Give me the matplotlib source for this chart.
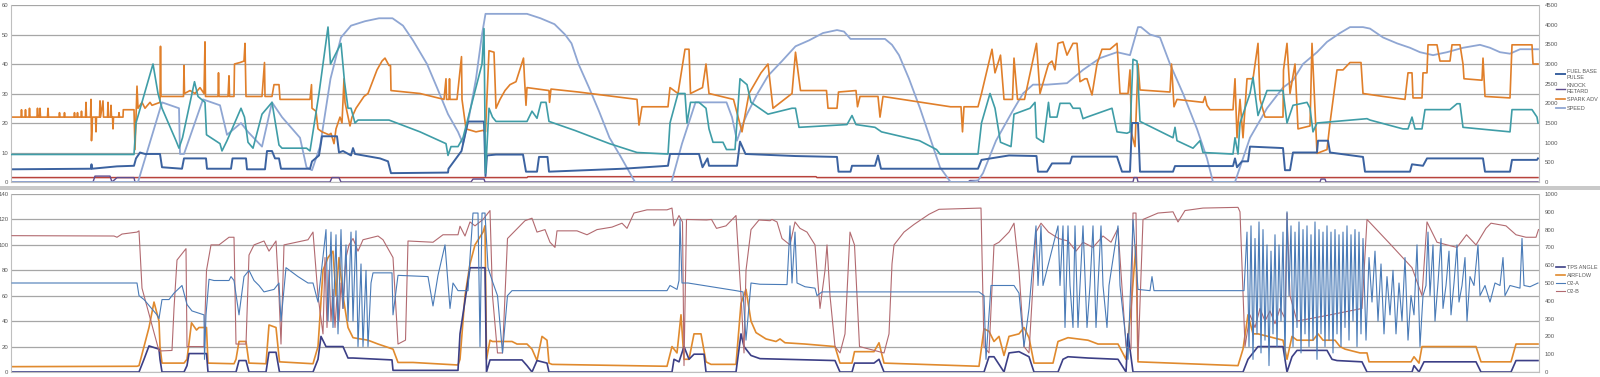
import numpy as np
import matplotlib
matplotlib.use("Agg")
import matplotlib.pyplot as plt
from matplotlib.patches import Rectangle

plt.rcParams['font.family'] = ['Liberation Sans', 'DejaVu Sans']

# ---------------- top chart (time sample, value) ----------------
# left axis 0-60
fuel_base_pulse = [(10, 4.3), (91, 4.5), (91.5, 6), (92, 4.5), (117, 5.3), (134, 5.5), (136, 8), (140, 10), (145, 9.5),
                   (160, 9.5), (162, 5), (182, 4.5), (184, 8), (206, 8), (207, 4.5), (231, 4.5), (232.5, 8), (246, 8),
                   (247, 4.3), (265, 4.3), (267, 10.5), (272, 10.5), (275, 8), (279, 8), (281, 4.5), (310, 4.5),
                   (312, 7), (319, 9), (322, 15.5), (337, 15.5), (339, 10), (343, 10.5), (351, 9), (353, 11.5),
                   (355, 9.5), (380, 8), (388, 7), (391, 3), (448, 3.2), (448.5, 4.5), (461.5, 10.5), (468, 20.5),
                   (484, 20.5), (485.5, 2), (487, 9), (496, 9.3), (523, 9.3), (526, 3.5), (537, 3.5), (539, 8.5),
                   (547.5, 8.5), (549, 3.5), (623, 4.5), (668, 5.5), (670, 9.5), (699, 9.5), (702.5, 5), (707.5, 8),
                   (709, 5.5), (737, 5.5), (740, 13.7), (745.5, 9.5), (795.5, 8.8), (837, 8.5), (838.5, 3.5),
                   (850.5, 3.5), (852, 5.5), (875, 5.5), (878, 9), (881, 4.5), (978, 4.5), (981.5, 7.5), (1009, 9),
                   (1036.5, 8.8), (1038, 3.5), (1047, 3.5), (1052, 6.3), (1070, 6.3), (1072, 8.6), (1117, 8.6),
                   (1122, 3.5), (1130, 3.5), (1132, 20), (1138, 20), (1140, 3.5), (1173, 3.5), (1175, 5.4),
                   (1233, 5.4), (1235, 8), (1237, 5), (1242, 7), (1248, 7), (1250, 12), (1283, 11.5), (1285, 4),
                   (1290, 4), (1293, 10), (1317, 10), (1318, 14), (1328, 14), (1330, 10), (1363, 8.5), (1365, 3.5),
                   (1410, 3.5), (1412, 6), (1423, 5.5), (1427, 8), (1483, 8), (1485, 3.5), (1510, 3.5),
                   (1512, 7.5), (1537, 7.5), (1538, 8)]

knock_retard = [(10, 0), (93, 0), (95, 2), (110, 2), (112, 0), (117, 1.5), (134, 1.5), (135, 0), (330, 0),
                (332, 1.5), (339, 1.5), (341, 0), (471, 0), (473, 1), (484, 1), (485, 0), (968, 0), (970, 0.5),
                (978, 0.5), (979, 0), (1133, 0), (1134, 1.5), (1137, 1.5), (1138, 0), (1320, 0), (1321, 1),
                (1325, 1), (1326, 0), (1538, 0)]

red_trace = [(10, 1.5), (527, 1.5), (528, 1.8), (816, 1.8), (817, 1.5), (1538, 1.5)]

spark_adv = [(10, 22), (21, 22), (21.5, 24.5), (22, 22), (25, 22), (25.5, 24.5), (26, 22), (29, 22), (29.5, 25),
             (30, 22), (37, 22), (37.5, 25), (38, 22), (39.5, 22), (40, 25), (40.5, 22), (47.5, 22), (48, 25),
             (48.5, 22), (59, 22), (59.5, 23.5), (60, 22), (64, 22), (64.5, 23.5), (65, 22), (74, 22),
             (74.5, 23.5), (75, 22), (77, 22), (77.5, 23.5), (78, 22), (81, 22), (81.5, 24), (82, 22),
             (85.5, 22), (86, 27), (86.5, 22), (90.5, 22), (91, 28), (91.5, 14), (92.5, 22), (95.5, 22),
             (96, 17), (96.5, 22), (99.5, 22), (100, 27.5), (100.5, 22), (103, 27.5), (103.5, 22), (107.5, 22),
             (108, 27), (108.5, 22), (110.5, 22), (111, 26), (111.5, 22), (112.5, 22), (113, 18), (113.5, 22),
             (118.5, 22), (119, 23.5), (119.5, 22), (123, 22), (123.3, 24.5), (134, 24.5), (135, 11),
             (137, 32.5), (138, 25), (142, 27), (145, 25), (150, 27), (152, 26), (160, 27), (160.5, 46),
             (161, 29), (175, 29), (183.5, 29), (184, 39.5), (184.5, 30), (190, 31), (195, 30), (200, 32),
             (204, 30), (205, 47.5), (205.5, 29), (218, 29), (218.5, 37), (219, 29), (228, 29), (229, 36),
             (229.5, 29), (234, 29), (234.5, 40), (240, 40.5), (244, 41), (245, 47), (246, 29), (262, 29),
             (264.5, 40.5), (265, 29), (272, 29), (274, 33), (279, 33), (280, 28), (310, 28), (311.5, 33),
             (312, 25), (316, 24), (318, 18), (322, 17), (329, 16), (331, 16.5), (334, 13), (336, 18),
             (340, 22), (342, 20), (344, 35), (345, 27), (350, 19), (352, 22), (356, 25), (360, 27), (364, 29),
             (368, 30), (377, 38), (382, 41), (385, 42), (389, 39.5), (390.5, 39.5), (391, 31), (420, 30),
             (444, 28), (446, 35), (446.5, 28), (449, 28), (449.5, 35), (450, 28), (457, 28), (461.5, 42.5),
             (462, 28), (466, 18), (476, 17), (483, 17.5), (485.5, 17), (489, 44.5), (494, 44), (496, 25),
             (500, 28), (505, 31), (510, 33), (516, 34), (523.5, 42), (524.5, 35), (526, 26), (527, 32),
             (549, 31), (549.5, 27), (551, 31.5), (578.5, 30.5), (637, 28), (639, 19.3), (642, 25.5),
             (668, 25.5), (670, 32), (678, 30), (685, 45), (689, 45), (690.5, 30), (702.5, 32), (706, 40),
             (709, 30), (733.5, 28), (742, 17), (749, 30), (761, 37), (768, 40), (773, 25), (792, 30),
             (795.5, 44), (800.5, 31), (826.5, 31), (828, 25), (837, 25), (838.5, 30.5), (856, 31),
             (857.5, 25.5), (860, 29), (878, 29), (880, 22), (883, 29), (950.5, 25.5), (961, 25.5), (962.5, 17),
             (964, 25.5), (978, 25.5), (981.5, 30), (992, 45), (995, 37), (1000.5, 43), (1004, 28),
             (1012.5, 28), (1014, 42), (1017.5, 28), (1024.5, 28), (1036.5, 47), (1040, 30), (1048.5, 40),
             (1052, 41), (1055, 38), (1058, 47), (1063, 47.5), (1067, 43), (1073, 47), (1077, 47), (1080, 34),
             (1085, 35), (1087, 35), (1092, 29.5), (1097, 40), (1102, 45), (1110, 45), (1117, 47), (1120, 30),
             (1128, 30), (1130, 38), (1131.5, 16.5), (1135, 12), (1138, 40), (1140, 31.2), (1170, 30.5),
             (1171.5, 40), (1174, 25.5), (1177, 28), (1203, 27), (1205, 29), (1207, 26), (1210, 24.5),
             (1233, 24.5), (1235, 35), (1237, 15), (1240, 28), (1243, 15), (1247, 35), (1253, 35), (1258, 47),
             (1260, 28), (1265, 22), (1283, 22), (1283.5, 38), (1287, 47), (1290, 30), (1295, 40), (1298, 18),
             (1310, 19), (1312, 47), (1317, 9.7), (1327, 11), (1330, 20), (1337, 38), (1343, 38), (1350, 40.5),
             (1361, 40.5), (1363, 30), (1383, 29), (1405, 28), (1408, 37), (1412, 37), (1413, 28.5),
             (1422, 28.5), (1423, 37), (1427, 37), (1428, 46.5), (1437, 46.5), (1440, 41), (1450, 41),
             (1452, 46.5), (1460, 46.5), (1463, 40), (1464, 35), (1482, 34.5), (1483, 42), (1485, 29),
             (1510, 28.5), (1512, 46.5), (1532, 46.5), (1533, 40), (1538, 40)]

speed = [(10, 0), (138, 0), (162, 27), (179, 25), (180, 9.5), (184, 9.5), (203, 28), (220, 26), (227, 16),
         (241, 20), (248, 17), (262, 12), (272, 27), (282, 22), (300, 15), (306.5, 5), (312, 4), (320, 12),
         (330.5, 35), (341, 49), (351, 53), (365, 54.5), (379, 55.5), (392.5, 55.5), (403, 53), (413, 48),
         (427, 40), (437, 32), (448, 23), (458, 17), (463, 13), (469, 22), (476, 35), (482, 50), (485.5, 57),
         (527, 57), (540.5, 55.5), (554.5, 53.5), (565, 50), (571.5, 47), (578.5, 40), (589, 32), (599, 24),
         (609.5, 15), (620, 9), (630, 3), (635, 0), (671.5, 0), (682, 13), (695.5, 27), (726.5, 27), (732, 22),
         (737, 14), (742, 19), (747, 23), (757.5, 30), (768, 36), (782, 41), (795.5, 46), (809, 48),
         (823, 50.5), (837, 51.5), (844, 51), (850.5, 48.5), (885, 48.5), (892, 46.5), (899, 43), (909, 35),
         (920, 25), (930, 15), (940, 5), (950.5, 0), (968, 0), (978, 0.5), (983, 3), (996, 14),
         (1012.5, 24), (1023, 30), (1033, 33), (1047, 33), (1067, 33.5), (1083, 38), (1100, 42), (1117, 44),
         (1130, 43), (1138, 52.5), (1141, 52.5), (1150, 50), (1160, 49), (1170, 40), (1183, 30), (1197, 18),
         (1207, 8), (1213, 0), (1235, 0), (1237, 2), (1250, 15), (1267, 25), (1283, 32), (1293, 34.5),
         (1303, 40), (1317, 44), (1327, 47.5), (1340, 50.5), (1350, 52.5), (1363, 52.5), (1370, 52),
         (1383, 49), (1397, 47), (1410, 45.5), (1420, 44), (1433, 43), (1447, 44), (1463, 45.5),
         (1480, 46.5), (1490, 45.5), (1500, 44), (1510, 43.5), (1520, 45), (1538, 45)]

# right axis 0-4500
rpm = [(10, 700), (134, 700), (136, 1500), (153, 3000), (158, 2250), (162, 1875), (176, 1050), (179, 860),
       (182.5, 1125), (194.5, 2550), (198, 2175), (205, 2025), (206.5, 1200), (220, 975), (222, 790),
       (227, 1050), (241, 1875), (244.5, 1650), (248, 1010), (253, 860), (262, 1725), (272, 2025), (279, 940),
       (282, 860), (306.5, 860), (310, 790), (319, 2250), (328, 3940), (330.5, 3000), (341, 3525),
       (344.5, 2550), (348, 1875), (351, 1875), (355, 1500), (358, 1575), (389, 1575), (420, 1275),
       (446, 975), (448, 675), (451, 900), (458, 900), (463, 1125), (482, 3000), (484, 3900), (485.5, 225),
       (489, 1875), (492.5, 1650), (496, 1540), (527, 1540), (532, 1800), (537, 1620), (541, 2025),
       (546, 2025), (549, 1540), (575, 1310), (609.5, 975), (637, 750), (668, 710), (670, 1500), (678, 2250),
       (685, 2250), (687, 1500), (690.5, 2025), (699, 2025), (706, 1875), (709, 1350), (713, 1010),
       (723, 1010), (726.5, 825), (735, 825), (740, 2625), (747, 2475), (751, 2025), (768, 1725),
       (792, 1875), (795.5, 1875), (799, 1390), (847, 1460), (852, 1690), (856, 1460), (875, 1390),
       (881.5, 1275), (919.5, 1050), (936.5, 825), (940, 710), (978, 710), (981.5, 1500), (990, 2250),
       (995, 1875), (1000.5, 1010), (1011, 900), (1014, 1725), (1030, 1875), (1035, 2025), (1036.5, 1125),
       (1043.5, 1010), (1048.5, 2025), (1050, 1650), (1057, 1650), (1060, 2000), (1070, 2000), (1073, 1875),
       (1080, 1875), (1083, 1610), (1087, 1650), (1112, 1875), (1117, 1275), (1127, 1240), (1130, 1275),
       (1133, 3120), (1137, 3075), (1140, 1540), (1173, 1125), (1175, 1390), (1177, 1050), (1193, 860),
       (1200, 1050), (1203, 750), (1233, 710), (1235, 1125), (1238, 710), (1240, 1500), (1250, 2250),
       (1253, 2660), (1258, 1690), (1267, 2325), (1283, 2325), (1287, 1500), (1290, 1725), (1293, 1950),
       (1307, 2025), (1310, 1875), (1313, 1275), (1317, 1500), (1367, 1610), (1370, 1575), (1403, 1350),
       (1408, 1350), (1412, 1650), (1415, 1350), (1422, 1350), (1425, 1840), (1450, 1840), (1457, 1990),
       (1460, 1990), (1463, 1390), (1510, 1275), (1512, 1840), (1532, 1840), (1537, 1650), (1538, 1500)]

# ---------------- bottom chart ----------------
# left axis 0-140
tps_angle = [(12, 0), (139, 0), (144, 10), (149, 20.5), (159, 18), (160, 10), (162, 0), (184, 0), (187, 5),
             (189, 14.5), (206.5, 14.5), (208, 0), (236, 0), (239, 9), (246, 9), (249, 0), (266, 0),
             (269, 15.5), (276, 15.5), (279.5, 0), (313, 0), (318, 10), (321, 28), (326, 20), (343, 20),
             (348, 11), (353, 11), (392, 9.5), (393, 1.3), (458, 1.3), (460, 30), (470, 82), (485, 82),
             (486.5, 0), (490, 9.5), (522, 9.5), (527, 5), (532, 0), (537, 9), (547, 7), (549, 0), (672, 0),
             (674, 10), (679, 8), (684, 20), (689, 10), (694, 14), (704, 14), (706, 0), (736, 0), (741, 30),
             (744, 20), (751, 13), (760, 10.5), (835, 9), (840, 0), (852, 0), (854.5, 7), (874, 7), (879, 10),
             (884, 0), (984, 0), (989, 12), (994, 12), (1004, 0), (1009, 15), (1019, 16), (1029, 12),
             (1034, 0), (1058, 0), (1063, 10), (1068, 12), (1088, 11), (1118, 10), (1126, 0), (1128, 30),
             (1133, 0), (1243, 0), (1248, 10), (1258, 20), (1283, 20), (1287, 0), (1292, 12), (1297, 17),
             (1327, 17), (1332, 10), (1337, 9), (1362, 8), (1367, 0), (1412, 0), (1414, 5), (1419, 0),
             (1424, 8), (1476, 8), (1481, 0), (1511, 0), (1516, 9), (1538, 9)]

airflow = [(12, 4.2), (137, 4.5), (139, 5), (144, 20), (149, 35), (154, 55), (159, 40), (160, 20), (162, 7),
           (184, 7), (187, 10), (191.5, 38.7), (196.5, 33), (199, 35), (206.5, 35), (208, 7), (234, 6.5),
           (236, 10), (239, 24), (246, 24), (249, 7), (266, 6.5), (269, 37), (276, 35), (279.5, 8), (313, 6.5),
           (318, 20), (323, 80), (328, 90), (333, 95), (336, 60), (339, 90), (343, 60), (348, 35), (353, 27),
           (368, 25), (378, 22), (393, 18), (398, 7.5), (413, 7.5), (458, 5.5), (460, 10), (465, 60), (470, 85),
           (475, 100), (483, 110), (485, 115), (486.5, 10), (490, 25), (492.5, 24), (512, 24), (517, 22),
           (527, 22), (532, 18), (537, 9), (542, 28), (547, 25), (549, 7), (552, 6), (667, 4.5), (672, 20),
           (677, 15), (681, 45), (684, 10), (689, 10), (694, 30), (701, 30), (706, 8), (711, 6), (736, 6),
           (741, 54), (746, 65), (751, 40), (756, 31), (766, 26), (776, 24), (780, 26), (785, 23), (805, 22),
           (835, 20), (840, 7), (852, 7), (854.5, 16), (874, 16), (879, 23), (884, 7), (979, 4.5), (984, 34),
           (989, 32), (994, 24), (999, 28), (1004, 13), (1009, 28), (1019, 30), (1024, 35), (1029, 27),
           (1034, 7), (1053, 7), (1058, 24), (1068, 27), (1078, 26), (1088, 25), (1098, 22), (1118, 22),
           (1126, 10), (1131, 50), (1136, 100), (1138, 8), (1238, 5), (1243, 18), (1248, 45), (1253, 30),
           (1258, 30), (1283, 25), (1287, 10), (1292, 28), (1297, 25), (1313, 25), (1318, 30), (1323, 25),
           (1335, 25), (1340, 20), (1345, 18), (1360, 15), (1367, 15), (1369, 8), (1411, 8), (1414, 12),
           (1419, 7), (1422, 20), (1476, 20), (1481, 8), (1511, 8), (1516, 22), (1538, 22)]

# right axis 0-1000 (mV)
o2_a = [(12, 500), (137, 500), (139, 429), (144, 407), (157, 321), (159, 300), (162, 407), (169, 407),
        (174, 443), (182, 486), (187, 379), (192, 343), (204, 321), (204.5, 71), (206, 321), (209, 521),
        (214, 514), (229, 514), (231, 536), (234, 514), (239, 321), (244, 536), (249, 571), (254, 514),
        (259, 486), (264, 450), (274, 464), (279, 500), (281, 286), (286, 586), (298, 536), (308, 500),
        (313, 500), (318, 393), (326, 800), (328, 286), (331, 786), (333, 250), (336, 771), (338, 214),
        (341, 800), (343, 357), (346, 714), (348, 286), (351, 786), (353, 286), (356, 793), (358, 143),
        (361, 607), (363, 143), (366, 571), (368, 143), (371, 500), (373, 557), (392, 557), (393, 321),
        (398, 543), (428, 536), (433, 371), (438, 543), (445, 714), (450, 357), (453, 500), (458, 457),
        (468, 457), (470, 643), (473, 893), (478, 893), (480, 143), (482, 893), (485, 893), (488, 586),
        (493, 500), (497.5, 429), (502.5, 107), (507.5, 429), (512, 457), (667, 457), (670, 486),
        (677, 464), (679, 514), (680, 857), (682, 500), (688, 500), (736, 457), (743, 450), (746, 179),
        (751, 500), (760, 493), (787, 491), (790, 821), (792, 500), (795, 786), (797, 500), (805, 479),
        (815, 471), (817, 429), (822, 450), (979, 450), (984, 429), (986, 71), (991, 486), (1014, 486),
        (1019, 443), (1024, 143), (1029, 357), (1031, 486), (1036, 821), (1038, 486), (1041, 821),
        (1043, 486), (1058, 821), (1060, 486), (1063, 821), (1065, 250), (1068, 821), (1070, 486),
        (1073, 250), (1075, 821), (1078, 250), (1080, 486), (1083, 821), (1087, 250), (1090, 486),
        (1093, 821), (1096, 250), (1098, 486), (1101, 821), (1103, 486), (1107, 250), (1109, 486),
        (1118, 821), (1120, 486), (1128, 71), (1133, 857), (1138, 464), (1150, 457), (1152, 536),
        (1154, 457), (1244, 457), (1247, 786), (1249, 143), (1251, 821), (1253, 71), (1255, 750),
        (1257, 214), (1259, 843), (1261, 107), (1263, 800), (1265, 179), (1267, 714), (1269, 36),
        (1271, 679), (1273, 214), (1275, 771), (1277, 143), (1279, 714), (1281, 286), (1283, 786),
        (1285, 71), (1287, 900), (1289, 429), (1291, 821), (1293, 143), (1295, 786), (1297, 250),
        (1299, 843), (1301, 107), (1303, 800), (1305, 214), (1307, 821), (1309, 143), (1311, 771),
        (1313, 179), (1315, 843), (1317, 71), (1319, 800), (1321, 214), (1323, 786), (1325, 143),
        (1327, 821), (1329, 179), (1331, 786), (1333, 107), (1335, 800), (1337, 214), (1339, 771),
        (1341, 143), (1343, 786), (1345, 250), (1347, 821), (1349, 179), (1351, 771), (1353, 286),
        (1355, 800), (1357, 143), (1359, 786), (1361, 214), (1363, 750), (1366, 179), (1369, 643),
        (1372, 393), (1375, 679), (1378, 286), (1381, 607), (1384, 214), (1387, 536), (1390, 321),
        (1393, 571), (1396, 214), (1399, 500), (1402, 286), (1405, 643), (1408, 179), (1411, 429),
        (1414, 321), (1417, 714), (1420, 143), (1423, 429), (1426, 486), (1428, 786), (1430, 429),
        (1433, 714), (1435, 286), (1438, 500), (1441, 750), (1443, 357), (1446, 486), (1449, 679),
        (1451, 321), (1454, 500), (1457, 714), (1459, 393), (1462, 486), (1465, 643), (1467, 286),
        (1470, 536), (1474, 486), (1478, 714), (1480, 429), (1485, 486), (1490, 393), (1495, 500),
        (1500, 486), (1503, 643), (1505, 429), (1510, 486), (1520, 471), (1522, 750), (1524, 486),
        (1530, 479), (1538, 500)]

o2_b = [(12, 766), (114, 764), (117, 757), (122, 775), (137, 786), (139, 793), (142, 471), (159, 118),
        (172, 121), (174, 357), (177, 629), (186, 693), (187, 143), (204, 143), (206.5, 571), (211, 714),
        (219, 714), (229, 757), (234, 757), (236, 157), (246, 157), (249, 657), (254, 714), (264, 736),
        (269, 679), (276, 736), (279, 429), (281, 157), (284, 714), (308, 743), (313, 786), (318, 429),
        (323, 214), (325, 643), (327, 250), (329, 571), (331, 286), (333, 464), (335, 250), (337, 429),
        (339, 286), (341, 500), (343, 357), (346, 643), (349, 714), (353, 750), (358, 679), (363, 743),
        (378, 764), (383, 743), (393, 643), (398, 157), (405.5, 179), (408, 736), (433, 729), (443, 771),
        (458, 771), (460, 819), (465, 764), (470, 843), (475, 821), (483, 857), (490, 907), (492.5, 429),
        (497.5, 107), (502.5, 107), (507.5, 750), (525, 850), (532, 864), (537, 786), (545, 800), (550, 729),
        (555, 700), (557, 793), (577, 793), (587, 771), (597, 800), (612, 814), (622, 836), (627, 807),
        (634, 893), (647, 911), (667, 911), (672, 921), (674, 821), (679, 879), (682.5, 843), (684, 36),
        (686.5, 857), (706.5, 854), (711.5, 857), (716.5, 807), (726, 821), (736, 879), (741, 429),
        (744, 107), (746, 571), (751, 800), (759, 854), (770, 850), (772, 857), (777, 843), (782, 750),
        (790, 714), (795, 843), (800, 807), (807, 786), (815, 714), (820, 357), (825, 571), (827, 714),
        (830, 429), (835, 143), (840, 107), (845, 214), (850, 786), (854.5, 714), (859.5, 143), (884, 107),
        (889, 214), (892, 607), (894, 714), (904, 786), (914, 829), (929, 886), (939, 914), (981, 921),
        (984, 143), (989, 107), (994, 714), (999, 729), (1009, 786), (1014, 836), (1019, 571), (1024, 143),
        (1029, 107), (1036, 786), (1041, 836), (1048.5, 786), (1058.5, 750), (1068, 736), (1076, 679),
        (1083, 729), (1093, 700), (1103, 764), (1111, 729), (1118, 807), (1126, 143), (1131, 129),
        (1133, 893), (1136, 893), (1138, 71), (1143, 857), (1158, 893), (1173, 900), (1178, 843),
        (1185, 907), (1203, 921), (1238, 925), (1240, 900), (1245, 143), (1250, 321), (1255, 250),
        (1260, 357), (1265, 286), (1270, 343), (1275, 271), (1280, 357), (1285, 300), (1287, 893),
        (1290, 429), (1297, 286), (1330, 321), (1362, 357), (1367, 857), (1390, 720), (1412, 586),
        (1422, 429), (1427, 843), (1437, 729), (1447, 714), (1457, 700), (1466.5, 771), (1476, 714),
        (1486, 807), (1491, 836), (1506, 821), (1516, 771), (1526, 757), (1536, 757), (1538.5, 800)]


def xy(series):
    arr = np.array(series, dtype=float)
    return arr[:, 0], arr[:, 1]


W, H = 1600, 377
fig = plt.figure(figsize=(W / 100, H / 100), dpi=100)
fig.patch.set_facecolor('white')

grid_col = '#a6a6a6'
txt_col = '#595959'
tick_fs = 4.3
leg_fs = 4.0


def style_axes(ax, twin):
    for side in ['top', 'bottom', 'left', 'right']:
        ax.spines[side].set_visible(False)
    ax.spines['left'].set_visible(True)
    ax.spines['left'].set_color('#bfbfbf')
    ax.spines['left'].set_linewidth(0.8)
    ax.spines['bottom'].set_visible(True)
    ax.spines['bottom'].set_color('#bfbfbf')
    ax.spines['bottom'].set_linewidth(0.8)
    ax.tick_params(axis='x', length=0, labelbottom=False)
    ax.tick_params(axis='y', length=0, labelsize=tick_fs, colors=txt_col, pad=2)
    twin.spines['right'].set_visible(True)
    twin.spines['right'].set_color('#bfbfbf')
    twin.spines['right'].set_linewidth(0.8)
    for side in ['top', 'bottom', 'left']:
        twin.spines[side].set_visible(False)
    twin.tick_params(axis='y', length=0, labelsize=tick_fs, colors=txt_col, pad=4)
    ax.set_xlim(11, 1539)
    ax.grid(axis='y', color=grid_col, linewidth=0.9)
    ax.set_axisbelow(True)


# ---------- top chart ----------
ax1 = fig.add_axes([11 / W, 1 - 182 / H, (1539 - 11) / W, (182 - 5) / H])
ax1b = ax1.twinx()
style_axes(ax1, ax1b)
ax1.set_ylim(0, 60)
ax1.set_yticks(np.arange(0, 61, 10))
ax1b.set_ylim(0, 4500)
ax1b.set_yticks(np.arange(0, 4501, 500))

t, v = xy(red_trace)
ax1.plot(t, v, color='#b8433c', lw=1.1, label='_nolegend_')
t, v = xy(knock_retard)
l_knock, = ax1.plot(t, v, color='#5e4c8e', lw=1.0)
t, v = xy(speed)
l_speed, = ax1.plot(t, v, color='#8fa6d3', lw=1.3)
t, v = xy(spark_adv)
l_spark, = ax1.plot(t, v, color='#e07f2a', lw=1.2)
t, v = xy(fuel_base_pulse)
l_fuel, = ax1.plot(t, v, color='#3b62a0', lw=1.4)
t, v = xy(rpm)
ax1b.plot(t, v, color='#3f9da7', lw=1.2, label='_nolegend_')

fig.legend([l_fuel, l_knock, l_spark, l_speed],
           ['FUEL BASE\nPULSE', 'KNOCK\nRETARD', 'SPARK ADV', 'SPEED'],
           loc='upper left', bbox_to_anchor=(1556 / W, 1 - 69 / H), frameon=False,
           fontsize=leg_fs, handlelength=1.6, handletextpad=0.3, labelspacing=0.6,
           labelcolor=txt_col, borderaxespad=0, borderpad=0)

# separator band between the two charts
fig.patches.append(Rectangle((0, 1 - 190 / H), 1, 4 / H, transform=fig.transFigure,
                             facecolor='#c9c9c9', edgecolor='none'))

# ---------- bottom chart ----------
ax2 = fig.add_axes([11 / W, 1 - 372 / H, (1539 - 11) / W, (372 - 194) / H])
ax2b = ax2.twinx()
style_axes(ax2, ax2b)
ax2.set_ylim(0, 140)
ax2.set_yticks(np.arange(0, 141, 20))
ax2b.set_ylim(0, 1000)
ax2b.set_yticks(np.arange(0, 1001, 100))

t, v = xy(airflow)
l_air, = ax2.plot(t, v, color='#e08a2e', lw=1.2)
t, v = xy(tps_angle)
l_tps, = ax2.plot(t, v, color='#3c3f86', lw=1.2)
t, v = xy(o2_b)
l_o2b, = ax2b.plot(t, v, color='#b26a70', lw=0.8)
t, v = xy(o2_a)
l_o2a, = ax2b.plot(t, v, color='#4a7bb7', lw=0.8)

fig.legend([l_tps, l_air, l_o2a, l_o2b], ['TPS ANGLE', 'AIRFLOW', 'O2-A', 'O2-B'],
           loc='upper left', bbox_to_anchor=(1556 / W, 1 - 265 / H), frameon=False,
           fontsize=leg_fs, handlelength=1.6, handletextpad=0.3, labelspacing=0.55,
           labelcolor=txt_col, borderaxespad=0, borderpad=0)

fig.savefig('out.png', dpi=100, facecolor='white')
